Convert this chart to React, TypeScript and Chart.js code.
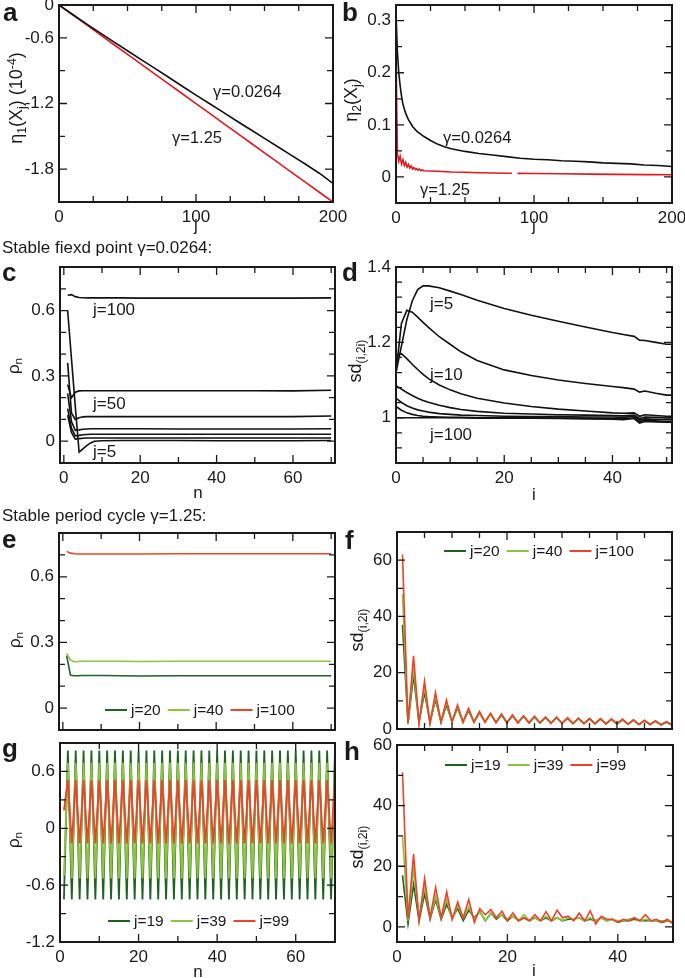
import React, { useEffect, useRef } from "react";
import { Chart, registerables } from "chart.js";

Chart.register(...registerables);

const W = 685;
const H = 978;
const FONT = '"Liberation Sans", Arial, Helvetica, sans-serif';
const INK = "#1a1a1a";

const C_BLACK = "#111111";
const C_RED_A = "#e3181f";
const C_DKGREEN = "#1f6323";
const C_LTGREEN = "#8cc43c";
const C_RED = "#ee4328";

// ---------- panel a : eta1(Xj) ----------
const A_J = [0, 10, 20, 30, 40, 50, 60, 70, 80, 90, 100, 110, 120, 130, 140, 150, 160, 170, 180, 190, 200];
const A_G0264 = [0, -0.087, -0.172, -0.255, -0.337, -0.418, -0.499, -0.579, -0.66, -0.742, -0.823, -0.902, -0.981, -1.062, -1.14, -1.219, -1.297, -1.376, -1.455, -1.537, -1.63];
const A_G125 = [0, -0.09, -0.18, -0.27, -0.361, -0.451, -0.541, -0.631, -0.721, -0.811, -0.901, -0.991, -1.081, -1.171, -1.261, -1.351, -1.441, -1.531, -1.621, -1.711, -1.8];
const A_YTICKS = [-1.5, -0.9, -0.3, 0];
const A_YLABELS = ["-1.8", "-1.2", "-0.6", "0"];

// ---------- panel b : eta2(Xj) ----------
const B_J_G0264 = [0, 1, 2, 3, 4, 5, 7, 9, 12, 15, 20, 25, 30, 35, 40, 50, 60, 70, 80, 90, 100, 110, 120, 130, 140, 150, 160, 170, 180, 190, 200];
const B_G0264 = [0.315, 0.24, 0.2, 0.175, 0.155, 0.14, 0.122, 0.11, 0.097, 0.088, 0.078, 0.07, 0.063, 0.058, 0.054, 0.049, 0.045, 0.042, 0.039, 0.036, 0.034, 0.033, 0.031, 0.03, 0.029, 0.027, 0.026, 0.025, 0.023, 0.022, 0.02];
const B_J_G125 = [0, 1, 2, 3, 4, 5, 6, 7, 8, 9, 10, 11, 12, 13, 14, 15, 16, 17, 18, 19, 20, 30, 40, 50, 60, 70, 80, 84, 85, 88, 100, 120, 140, 160, 180, 200];
const B_G125 = [0.238, 0.045, 0.03, 0.04, 0.025, 0.033, 0.022, 0.028, 0.019, 0.024, 0.017, 0.021, 0.015, 0.018, 0.014, 0.016, 0.013, 0.015, 0.012, 0.014, 0.012, 0.011, 0.0095, 0.009, 0.008, 0.0075, 0.007, 0.007, null, 0.0068, 0.0065, 0.006, 0.0055, 0.005, 0.0045, 0.0042];

// ---------- panel c : rho_n, gamma=0.0264 ----------
const C_N = [1, 2, 3, 4, 5, 6, 7, 8, 10, 15, 20, 30, 40, 50, 60, 70];
const C_J100 = [0.67, 0.673, 0.664, 0.66, 0.659, 0.658, 0.658, 0.658, 0.658, 0.658, 0.657, 0.657, 0.657, 0.657, 0.657, 0.658];
const C_J50 = [0.26, 0.2, 0.225, 0.231, 0.232, 0.232, 0.232, 0.232, 0.232, 0.232, 0.232, 0.232, 0.232, 0.232, 0.231, 0.234];
const C_J20 = [0.36, 0.13, 0.1, 0.108, 0.112, 0.113, 0.113, 0.113, 0.113, 0.113, 0.113, 0.113, 0.113, 0.113, 0.113, 0.116];
const C_J15 = [0.22, 0.09, 0.05, 0.052, 0.055, 0.056, 0.057, 0.057, 0.057, 0.057, 0.057, 0.056, 0.056, 0.056, 0.056, 0.057];
const C_J10 = [0.15, 0.06, 0.025, 0.027, 0.03, 0.031, 0.032, 0.032, 0.032, 0.032, 0.032, 0.032, 0.032, 0.032, 0.032, 0.032];
const C_J7 = [0.12, 0.04, 0.01, 0.012, 0.014, 0.015, 0.015, 0.015, 0.015, 0.015, 0.015, 0.015, 0.015, 0.015, 0.015, 0.015];
const C_J5 = [0.6, 0.38, 0.16, -0.05, -0.035, -0.02, -0.008, 0.0, 0.002, 0.003, 0.003, 0.003, 0.002, 0.002, 0.002, 0.003];

// ---------- panel d : sd(i,2i), gamma=0.0264 ----------
const D_I = [0, 1, 2, 3, 4, 5, 6, 8, 10, 12, 15, 20, 25, 30, 35, 40, 42, 44, 45, 46, 48, 50, 51];
const D_J5 = [1.12, 1.19, 1.26, 1.31, 1.34, 1.35, 1.35, 1.345, 1.336, 1.327, 1.312, 1.29, 1.272, 1.256, 1.241, 1.226, 1.221, 1.216, 1.206, 1.205, 1.2, 1.195, 1.195];
const D_J10 = [1.12, 1.25, 1.285, 1.28, 1.267, 1.253, 1.24, 1.215, 1.195, 1.175, 1.152, 1.127, 1.112, 1.1, 1.091, 1.083, 1.08, 1.076, 1.068, 1.071, 1.065, 1.06, 1.06];
const D_J15 = [1.165, 1.17, 1.157, 1.142, 1.128, 1.115, 1.104, 1.087, 1.074, 1.064, 1.052, 1.039, 1.03, 1.023, 1.018, 1.013, 1.012, 1.013, 1.004, 1.008, 1.006, 1.004, 1.004];
const D_J20 = [1.085, 1.076, 1.067, 1.059, 1.052, 1.046, 1.041, 1.033, 1.027, 1.022, 1.017, 1.012, 1.01, 1.008, 1.007, 1.006, 1.005, 1.007, 0.998, 1.002, 1.001, 1.0, 1.0];
const D_J30 = [1.052, 1.041, 1.032, 1.026, 1.021, 1.018, 1.015, 1.011, 1.009, 1.007, 1.006, 1.004, 1.003, 1.003, 1.002, 1.002, 1.001, 1.004, 0.994, 0.997, 0.996, 0.995, 0.995];
const D_J50 = [1.03, 1.02, 1.013, 1.009, 1.006, 1.004, 1.003, 1.002, 1.001, 1.001, 1.0, 1.0, 1.0, 0.999, 0.999, 0.998, 0.997, 1.0, 0.99, 0.993, 0.992, 0.99, 0.99];
const D_J100 = [1.0, 1.0, 1.0, 1.0, 1.0, 1.0, 1.0, 1.0, 1.0, 1.0, 0.999, 0.999, 0.999, 0.998, 0.997, 0.996, 0.995, 0.998, 0.986, 0.99, 0.989, 0.988, 0.988];

// ---------- panel e : rho_n, gamma=1.25 ----------
const E_N = [1, 2, 3, 4, 5, 6, 8, 10, 15, 20, 30, 40, 50, 60, 70];
const E_J20 = [0.24, 0.15, 0.148, 0.148, 0.149, 0.149, 0.149, 0.149, 0.148, 0.147, 0.148, 0.148, 0.148, 0.148, 0.148];
const E_J40 = [0.25, 0.22, 0.212, 0.213, 0.214, 0.214, 0.214, 0.214, 0.214, 0.213, 0.214, 0.214, 0.214, 0.214, 0.214];
const E_J100 = [0.716, 0.708, 0.705, 0.704, 0.704, 0.704, 0.704, 0.704, 0.704, 0.704, 0.705, 0.705, 0.705, 0.705, 0.705];

// ---------- panel f : sd(i,2i), gamma=1.25 ----------
const F_I = [1, 2, 3, 4, 5, 6, 7, 8, 9, 10, 11, 12, 13, 14, 15, 16, 17, 18, 19, 20, 21, 22, 23, 24, 25, 26, 27, 28, 29, 30, 31, 32, 33, 34, 35, 36, 37, 38, 39, 40, 41, 42, 43, 44, 45, 46, 47, 48, 49, 50];
const F_J20 = [37, 2, 19, 2.3, 13, 2.3, 10.5, 2.4, 8.5, 2.5, 7.5, 2.4, 6.5, 2.4, 5.8, 2.4, 5.3, 2.3, 5, 2.2, 4.7, 2.2, 4.5, 2.1, 4.3, 2.1, 4.1, 2, 4, 2, 3.8, 1.9, 3.7, 1.9, 3.6, 1.9, 3.5, 1.8, 3.4, 1.7, 3.3, 1.7, 3.1, 1.6, 2.9, 1.6, 2.7, 1.5, 2.4, 1.4];
const F_J40 = [48, 2, 22, 2.2, 15, 2.2, 11.5, 2.4, 9.5, 2.5, 8, 2.4, 7, 2.4, 6, 2.4, 5.4, 2.3, 5.1, 2.2, 4.8, 2.2, 4.6, 2.1, 4.4, 2.1, 4.2, 2, 4.1, 2, 3.9, 1.9, 3.8, 1.9, 3.7, 1.9, 3.6, 1.8, 3.5, 1.7, 3.4, 1.7, 3.2, 1.6, 3, 1.6, 2.8, 1.5, 2.5, 1.4];
const F_J100 = [62, 2, 26, 2, 17, 2, 13, 2.5, 10.3, 2.5, 8.5, 2.5, 7.3, 2.5, 6.2, 2.5, 5.6, 2.3, 5.3, 2.3, 5, 2.2, 4.7, 2.2, 4.5, 2.2, 4.3, 2, 4.2, 2, 4, 2, 3.9, 2, 3.8, 1.9, 3.7, 1.8, 3.6, 1.8, 3.5, 1.7, 3.3, 1.6, 3.1, 1.6, 2.9, 1.5, 2.6, 1.4];

// ---------- panel g : rho_n, period cycle ----------
const G_N = [1, 2, 3, 4, 5, 6, 7, 8, 9, 10, 11, 12, 13, 14, 15, 16, 17, 18, 19, 20, 21, 22, 23, 24, 25, 26, 27, 28, 29, 30, 31, 32, 33, 34, 35, 36, 37, 38, 39, 40, 41, 42, 43, 44, 45, 46, 47, 48, 49, 50, 51, 52, 53, 54, 55, 56, 57, 58, 59, 60, 61, 62, 63, 64, 65, 66, 67, 68, 69, 70];
const G_J19 = [
  -0.75, 0.82, -0.75, 0.82, -0.75, 0.82, -0.75, 0.82, -0.75, 0.82,
  -0.75, 0.82, -0.75, 0.82, -0.75, 0.82, -0.75, 0.82, -0.75, 0.82,
  -0.75, 0.82, -0.75, 0.82, -0.75, 0.82, -0.75, 0.82, -0.75, 0.82,
  -0.75, 0.82, -0.75, 0.82, -0.75, 0.82, -0.75, 0.82, -0.75, 0.82,
  -0.75, 0.82, -0.75, 0.82, -0.75, 0.82, -0.75, 0.82, -0.75, 0.82,
  -0.75, 0.82, -0.75, 0.82, -0.75, 0.82, -0.75, 0.82, -0.75, 0.82,
  -0.75, 0.82, -0.75, 0.82, -0.75, 0.82, -0.75, 0.82, -0.75, 0.82,
];
const G_J39 = [
  -0.5, 0.69, -0.53, 0.69, -0.53, 0.69, -0.53, 0.69, -0.53, 0.69,
  -0.53, 0.69, -0.53, 0.69, -0.53, 0.69, -0.53, 0.69, -0.53, 0.69,
  -0.53, 0.69, -0.53, 0.69, -0.53, 0.69, -0.53, 0.69, -0.53, 0.69,
  -0.53, 0.69, -0.53, 0.69, -0.53, 0.69, -0.53, 0.69, -0.53, 0.69,
  -0.53, 0.69, -0.53, 0.69, -0.53, 0.69, -0.53, 0.69, -0.53, 0.69,
  -0.53, 0.69, -0.53, 0.69, -0.53, 0.69, -0.53, 0.69, -0.53, 0.69,
  -0.53, 0.69, -0.53, 0.69, -0.53, 0.69, -0.53, 0.69, -0.53, 0.69,
];
const G_J99 = [
  0.19, 0.51, -0.16, 0.51, -0.16, 0.51, -0.16, 0.51, -0.16, 0.51,
  -0.16, 0.51, -0.16, 0.51, -0.16, 0.51, -0.16, 0.51, -0.16, 0.51,
  -0.16, 0.51, -0.16, 0.51, -0.16, 0.51, -0.16, 0.51, -0.16, 0.51,
  -0.16, 0.51, -0.16, 0.51, -0.16, 0.51, -0.16, 0.51, -0.16, 0.51,
  -0.16, 0.51, -0.16, 0.51, -0.16, 0.51, -0.16, 0.51, -0.16, 0.51,
  -0.16, 0.51, -0.16, 0.51, -0.16, 0.51, -0.16, 0.51, -0.16, 0.51,
  -0.16, 0.51, -0.16, 0.51, -0.16, 0.51, -0.16, 0.51, -0.16, 0.51,
];

// ---------- panel h : sd(i,2i), period cycle ----------
const H_I = [1, 2, 3, 4, 5, 6, 7, 8, 9, 10, 11, 12, 13, 14, 15, 16, 17, 18, 19, 20, 21, 22, 23, 24, 25, 26, 27, 28, 29, 30, 31, 32, 33, 34, 35, 36, 37, 38, 39, 40, 41, 42, 43, 44, 45, 46, 47, 48, 49, 50];
const H_J19 = [17, 1, 14, 2, 11, 2.5, 9, 2.5, 7.5, 3, 6, 2, 5.5, 3, 5, 2, 4.5, 2.5, 4, 2, 3.5, 2, 3, 2, 3, 2, 3, 2, 3, 2, 2.5, 2.5, 3, 2, 2.5, 2, 3, 2, 2.5, 1.5, 2, 2, 2.5, 2, 2, 2, 2, 1.5, 2, 1.5];
const H_J39 = [30, 2, 19, 3, 13, 3, 10, 3, 9, 2.5, 7, 3, 6.5, 2.5, 5, 2, 4.5, 3, 4, 2.5, 3.5, 2, 4, 2, 3, 2, 3.5, 2, 3, 2, 3, 2.5, 3, 2, 3, 2, 3, 2, 2.5, 2, 2, 2.5, 3, 2, 2.5, 2, 2, 2, 2, 1.5];
const H_J99 = [51, 2.7, 24, 2, 16, 3, 13, 3, 11.5, 2.5, 8.2, 3, 9, 1.5, 6, 4, 5.7, 3, 5.2, 2, 4.6, 2, 3, 2, 4, 2, 5, 2, 5.5, 3, 3.5, 2, 4.5, 2, 5.3, 1, 3.5, 2.5, 2.5, 1.5, 2.5, 2, 3, 2, 4, 2, 2.5, 1.5, 2.5, 1];

// ---------- types ----------
type Series = { label: string; xs: number[]; ys: (number | null)[]; color: string; width?: number };
type AxisSpec = { min: number; max: number; major: number[]; minor: number[]; labels?: string[]; show?: boolean };
type Panel = {
  id: string;
  box: [number, number, number, number];
  x: AxisSpec;
  y: AxisSpec;
  series: Series[];
  legend?: [number, number];
};

const PANELS: Panel[] = [
  {
    id: "a",
    box: [59, 5, 333, 202],
    x: { min: 0, max: 200, major: [0, 100, 200], minor: [25, 50, 75, 100, 125, 150, 175] },
    y: { min: -1.8, max: 0, major: A_YTICKS, labels: A_YLABELS, minor: [-1.5, -1.2, -0.9, -0.6, -0.3] },
    series: [
      { label: "γ=1.25", xs: A_J, ys: A_G125, color: C_RED_A },
      { label: "γ=0.0264", xs: A_J, ys: A_G0264, color: C_BLACK },
    ],
  },
  {
    id: "b",
    box: [396, 5, 672, 203],
    x: { min: 0, max: 200, major: [0, 100, 200], minor: [25, 50, 75, 100, 125, 150, 175] },
    y: { min: -0.05, max: 0.33, major: [0, 0.1, 0.2, 0.3], minor: [0, 0.05, 0.1, 0.15, 0.2, 0.25, 0.3] },
    series: [
      { label: "γ=0.0264", xs: B_J_G0264, ys: B_G0264, color: C_BLACK },
      { label: "γ=1.25", xs: B_J_G125, ys: B_G125, color: C_RED_A },
    ],
  },
  {
    id: "c",
    box: [60, 267, 335, 463],
    x: { min: -1, max: 71, major: [0, 20, 40, 60], minor: [0, 10, 20, 30, 40, 50, 60, 70] },
    y: { min: -0.1, max: 0.8, major: [0, 0.3, 0.6], minor: [0, 0.1, 0.2, 0.3, 0.4, 0.5, 0.6, 0.7] },
    series: [
      { label: "j=100", xs: C_N, ys: C_J100, color: C_BLACK },
      { label: "j=50", xs: C_N, ys: C_J50, color: C_BLACK },
      { label: "j=20", xs: C_N, ys: C_J20, color: C_BLACK },
      { label: "j=15", xs: C_N, ys: C_J15, color: C_BLACK },
      { label: "j=10", xs: C_N, ys: C_J10, color: C_BLACK },
      { label: "j=7", xs: C_N, ys: C_J7, color: C_BLACK },
      { label: "j=5", xs: C_N, ys: C_J5, color: C_BLACK },
    ],
  },
  {
    id: "d",
    box: [396, 267, 672, 463],
    x: { min: 0, max: 51, major: [0, 20, 40], minor: [5, 10, 15, 20, 25, 30, 35, 40, 45, 50] },
    y: { min: 0.88, max: 1.4, major: [1, 1.2, 1.4], minor: [0.92, 0.96, 1, 1.04, 1.08, 1.12, 1.16, 1.2, 1.24, 1.28, 1.32, 1.36] },
    series: [
      { label: "j=5", xs: D_I, ys: D_J5, color: C_BLACK },
      { label: "j=10", xs: D_I, ys: D_J10, color: C_BLACK },
      { label: "j=15", xs: D_I, ys: D_J15, color: C_BLACK },
      { label: "j=20", xs: D_I, ys: D_J20, color: C_BLACK },
      { label: "j=30", xs: D_I, ys: D_J30, color: C_BLACK },
      { label: "j=50", xs: D_I, ys: D_J50, color: C_BLACK },
      { label: "j=100", xs: D_I, ys: D_J100, color: C_BLACK },
    ],
  },
  {
    id: "e",
    box: [59, 533, 335, 730],
    x: { min: -1, max: 71, major: [0, 20, 40, 60], minor: [0, 10, 20, 30, 40, 50, 60, 70], show: false },
    y: { min: -0.1, max: 0.8, major: [0, 0.3, 0.6], minor: [0, 0.1, 0.2, 0.3, 0.4, 0.5, 0.6, 0.7] },
    series: [
      { label: "j=20", xs: E_N, ys: E_J20, color: C_DKGREEN },
      { label: "j=40", xs: E_N, ys: E_J40, color: C_LTGREEN },
      { label: "j=100", xs: E_N, ys: E_J100, color: C_RED },
    ],
    legend: [105, 710],
  },
  {
    id: "f",
    box: [397, 532, 672, 729],
    x: { min: 0, max: 50, major: [0, 20, 40], minor: [5, 10, 15, 20, 25, 30, 35, 40, 45], show: false },
    y: { min: 0, max: 70, major: [0, 20, 40, 60], minor: [10, 20, 30, 40, 50, 60] },
    series: [
      { label: "j=20", xs: F_I, ys: F_J20, color: C_DKGREEN },
      { label: "j=40", xs: F_I, ys: F_J40, color: C_LTGREEN },
      { label: "j=100", xs: F_I, ys: F_J100, color: C_RED },
    ],
    legend: [444, 551],
  },
  {
    id: "g",
    box: [60, 743, 335, 942],
    x: { min: 0, max: 70, major: [0, 20, 40, 60], minor: [10, 20, 30, 40, 50, 60] },
    y: { min: -1.2, max: 0.9, major: [-1.2, -0.6, 0, 0.6], minor: [-0.9, -0.6, -0.3, 0, 0.3, 0.6] },
    series: [
      { label: "j=19", xs: G_N, ys: G_J19, color: C_DKGREEN, width: 1.8 },
      { label: "j=39", xs: G_N, ys: G_J39, color: C_LTGREEN, width: 1.8 },
      { label: "j=99", xs: G_N, ys: G_J99, color: C_RED, width: 1.8 },
    ],
    legend: [108, 921],
  },
  {
    id: "h",
    box: [397, 745, 673, 942],
    x: { min: 0, max: 50, major: [0, 20, 40], minor: [5, 10, 15, 20, 25, 30, 35, 40, 45] },
    y: { min: -5, max: 60, major: [0, 20, 40, 60], minor: [0, 10, 20, 30, 40, 50] },
    series: [
      { label: "j=19", xs: H_I, ys: H_J19, color: C_DKGREEN },
      { label: "j=39", xs: H_I, ys: H_J39, color: C_LTGREEN },
      { label: "j=99", xs: H_I, ys: H_J99, color: C_RED },
    ],
    legend: [445, 765],
  },
];

function makeOverlay(p: Panel) {
  return {
    id: "overlay_" + p.id,
    afterDatasetsDraw(chart: any) {
      const { ctx, chartArea: a, scales } = chart;
      const sx = scales.x;
      const sy = scales.y;
      ctx.save();
      ctx.strokeStyle = INK;
      ctx.lineWidth = 1.3;
      const xt = (vals: number[], len: number) => {
        vals.forEach((v) => {
          const px = sx.getPixelForValue(v);
          ctx.moveTo(px, a.bottom);
          ctx.lineTo(px, a.bottom - len);
          ctx.moveTo(px, a.top);
          ctx.lineTo(px, a.top + len);
        });
      };
      const yt = (vals: number[], len: number) => {
        vals.forEach((v) => {
          const py = sy.getPixelForValue(v);
          ctx.moveTo(a.left, py);
          ctx.lineTo(a.left + len, py);
          ctx.moveTo(a.right, py);
          ctx.lineTo(a.right - len, py);
        });
      };
      ctx.beginPath();
      xt(p.x.minor, 6);
      xt(p.x.major, 8);
      yt(p.y.minor, 6);
      yt(p.y.major, 8);
      ctx.stroke();
      ctx.lineWidth = 2;
      ctx.strokeRect(a.left, a.top, a.right - a.left, a.bottom - a.top);

      if (p.legend) {
        let lx = p.legend[0];
        const ly = p.legend[1];
        ctx.font = `15.5px ${FONT}`;
        ctx.textBaseline = "middle";
        ctx.textAlign = "left";
        ctx.fillStyle = INK;
        chart.data.datasets.forEach((ds: any) => {
          ctx.strokeStyle = ds.borderColor;
          ctx.lineWidth = 2;
          ctx.beginPath();
          ctx.moveTo(lx, ly);
          ctx.lineTo(lx + 22, ly);
          ctx.stroke();
          lx += 26;
          ctx.fillText(ds.label, lx, ly + 1);
          lx += ctx.measureText(ds.label).width + 7;
        });
      }
      ctx.restore();
    },
  };
}

function PanelChart({ p }: { p: Panel }) {
  const ref = useRef<HTMLCanvasElement>(null);
  useEffect(() => {
    if (!ref.current) return;
    const [L, T, R, B] = p.box;
    const axis = (s: AxisSpec, isX: boolean): any => ({
      type: "linear",
      position: isX ? "bottom" : "left",
      min: s.min,
      max: s.max,
      grid: { display: false, drawTicks: false },
      border: { display: false },
      ticks: {
        display: s.show !== false,
        autoSkip: false,
        maxRotation: 0,
        minRotation: 0,
        padding: 5,
        font: { family: FONT, size: 17 },
        color: INK,
        callback: (v: number) => {
          const i = s.major.indexOf(v);
          return s.labels && i >= 0 ? s.labels[i] : String(v);
        },
      },
      afterBuildTicks: (sc: any) => {
        sc.ticks = s.major.map((v) => ({ value: v }));
      },
      afterFit: (sc: any) => {
        if (isX) sc.height = H - B;
        else sc.width = L;
        sc.paddingLeft = 0;
        sc.paddingRight = 0;
        sc.paddingTop = 0;
        sc.paddingBottom = 0;
      },
    });
    const n = p.series.length;
    const chart = new Chart(ref.current, {
      type: "line",
      data: {
        datasets: p.series.map((s, k) => ({
          label: s.label,
          data: s.xs.map((x, i) => ({ x, y: s.ys[i] })),
          borderColor: s.color,
          backgroundColor: s.color,
          borderWidth: s.width ?? 1.6,
          pointRadius: 0,
          tension: 0,
          fill: false,
          spanGaps: false,
          order: n - k,
        })),
      },
      options: {
        responsive: false,
        maintainAspectRatio: false,
        animation: false,
        devicePixelRatio: 1,
        events: [],
        layout: { padding: { left: 0, top: T, right: W - R, bottom: 0 } },
        plugins: { legend: { display: false }, tooltip: { enabled: false } },
        scales: { x: axis(p.x, true), y: axis(p.y, false) },
      } as any,
      plugins: [makeOverlay(p)],
    });
    return () => chart.destroy();
  }, []);
  return <canvas ref={ref} width={W} height={H} style={{ position: "absolute", left: 0, top: 0, width: W, height: H }} />;
}

const Sub = ({ c }: { c: string }) => (
  <span style={{ fontSize: "0.68em", position: "relative", top: "0.3em" }}>{c}</span>
);
const Sup = ({ c }: { c: string }) => (
  <span style={{ fontSize: "0.68em", position: "relative", top: "-0.5em" }}>{c}</span>
);

function Txt({ x, base, size = 17, bold = false, center = false, children }: any) {
  return (
    <div
      style={{
        position: "absolute",
        left: x,
        top: base - 0.85 * size,
        fontFamily: FONT,
        fontSize: size,
        fontWeight: bold ? 700 : 400,
        lineHeight: 1,
        whiteSpace: "nowrap",
        color: INK,
        transform: center ? "translateX(-50%)" : undefined,
      }}
    >
      {children}
    </div>
  );
}

function VTxt({ cx, cy, size = 18, children }: any) {
  return (
    <div
      style={{
        position: "absolute",
        left: cx,
        top: cy,
        fontFamily: FONT,
        fontSize: size,
        lineHeight: 1,
        whiteSpace: "nowrap",
        color: INK,
        transform: "translate(-50%,-50%) rotate(-90deg)",
      }}
    >
      {children}
    </div>
  );
}

const SD = () => (
  <>
    sd<Sub c="(i,2i)" />
  </>
);
const RHO = () => (
  <>
    ρ<Sub c="n" />
  </>
);

export default function App() {
  return (
    <div style={{ position: "absolute", left: 0, top: 0, width: W, height: H, background: "#fff", overflow: "hidden" }}>
      {PANELS.map((p) => (
        <PanelChart key={p.id} p={p} />
      ))}

      {/* panel letters */}
      <Txt x={3} base={21} size={26} bold>a</Txt>
      <Txt x={342} base={21} size={26} bold>b</Txt>
      <Txt x={2} base={281} size={26} bold>c</Txt>
      <Txt x={342} base={281} size={26} bold>d</Txt>
      <Txt x={2} base={548} size={26} bold>e</Txt>
      <Txt x={345} base={549} size={26} bold>f</Txt>
      <Txt x={2} base={757} size={26} bold>g</Txt>
      <Txt x={344} base={760} size={26} bold>h</Txt>

      {/* section headings */}
      <Txt x={2} base={253} size={17}>Stable fiexd point γ=0.0264:</Txt>
      <Txt x={2} base={521} size={17}>Stable period cycle γ=1.25:</Txt>

      {/* axis titles */}
      <VTxt cx={16} cy={98} size={18}>
        η<Sub c="1" />(X<Sub c="j" />) (10<Sup c="-4" />)
      </VTxt>
      <VTxt cx={351} cy={100} size={18}>
        η<Sub c="2" />(X<Sub c="j" />)
      </VTxt>
      <VTxt cx={13} cy={366} size={17}><RHO /></VTxt>
      <VTxt cx={355} cy={361} size={18}><SD /></VTxt>
      <VTxt cx={14} cy={640} size={17}><RHO /></VTxt>
      <VTxt cx={357} cy={630} size={18}><SD /></VTxt>
      <VTxt cx={13} cy={840} size={17}><RHO /></VTxt>
      <VTxt cx={357} cy={847} size={18}><SD /></VTxt>

      <Txt x={196} base={231} center>j</Txt>
      <Txt x={534} base={231} center>j</Txt>
      <Txt x={198} base={498} center>n</Txt>
      <Txt x={534} base={500} center>i</Txt>
      <Txt x={198} base={977} center>n</Txt>
      <Txt x={534} base={976} center>i</Txt>

      {/* annotations */}
      <Txt x={213} base={97} size={16.5}>γ=0.0264</Txt>
      <Txt x={172} base={143} size={16.5}>γ=1.25</Txt>
      <Txt x={443} base={143} size={16.5}>γ=0.0264</Txt>
      <Txt x={420} base={195} size={16.5}>γ=1.25</Txt>
      <Txt x={93} base={315} size={17}>j=100</Txt>
      <Txt x={93} base={409} size={17}>j=50</Txt>
      <Txt x={93} base={457} size={17}>j=5</Txt>
      <Txt x={430} base={309} size={17}>j=5</Txt>
      <Txt x={430} base={380} size={17}>j=10</Txt>
      <Txt x={430} base={440} size={17}>j=100</Txt>
    </div>
  );
}
